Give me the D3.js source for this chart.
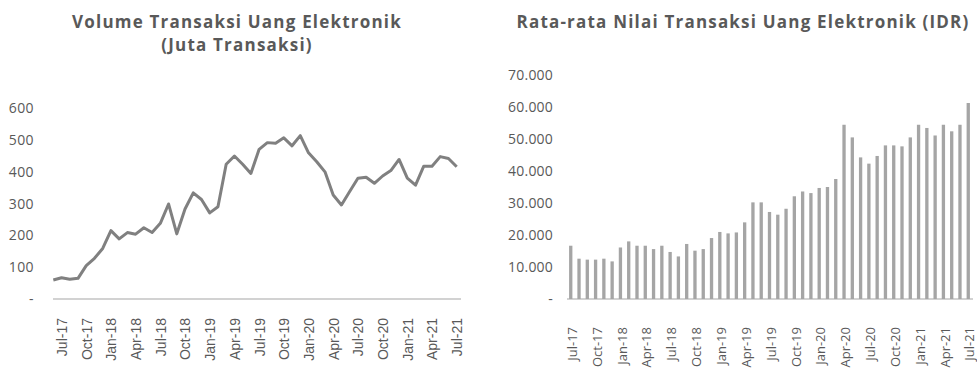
<!DOCTYPE html>
<html>
<head>
<meta charset="utf-8">
<script src="https://cdn.jsdelivr.net/npm/d3@7"></script>
<style>
  body { margin: 0; background: #fff; }
  svg { display: block; }
</style>
</head>
<body>
<div id="chart"></div>
<script>
// Months on the left chart (line starts one month earlier than the bar chart)
const months = [
  "Jun-17","Jul-17","Aug-17","Sep-17","Oct-17","Nov-17","Dec-17",
  "Jan-18","Feb-18","Mar-18","Apr-18","May-18","Jun-18","Jul-18","Aug-18","Sep-18","Oct-18","Nov-18","Dec-18",
  "Jan-19","Feb-19","Mar-19","Apr-19","May-19","Jun-19","Jul-19","Aug-19","Sep-19","Oct-19","Nov-19","Dec-19",
  "Jan-20","Feb-20","Mar-20","Apr-20","May-20","Jun-20","Jul-20","Aug-20","Sep-20","Oct-20","Nov-20","Dec-20",
  "Jan-21","Feb-21","Mar-21","Apr-21","May-21","Jun-21","Jul-21"
];
const barMonths = months.slice(1);

const tickLabels = ["Jul-17","Oct-17","Jan-18","Apr-18","Jul-18","Oct-18","Jan-19","Apr-19",
  "Jul-19","Oct-19","Jan-20","Apr-20","Jul-20","Oct-20","Jan-21","Apr-21","Jul-21"];

// Volume (juta transaksi)
const volume = [60,67,62,65,105,128,159,215,189,209,204,224,209,238,299,205,283,334,313,271,
  290,424,450,424,395,471,492,490,507,482,514,460,432,400,327,296,338,380,383,364,
  387,404,439,380,358,418,418,448,442,416];

// Rata-rata nilai transaksi (IDR)
const avgValue = [16650,12600,12300,12300,12600,11750,16100,18000,16650,16650,15600,16650,14700,13300,
  17200,15100,15600,19050,20950,20500,20800,23950,30200,30200,27200,26350,28200,32100,33600,33100,
  34700,35000,37500,54450,50500,44250,42300,44700,48000,48000,47700,50500,54450,53450,51100,54450,
  52400,54450,61250];

const leftTicks = [0, 100, 200, 300, 400, 500, 600];
const rightTicks = [0, 10000, 20000, 30000, 40000, 50000, 60000, 70000];

const width = 977, height = 370;
const baseY = 299;
const textColor = "#595959";
const titleFont = "'Open Sans', sans-serif";

const idFormat = d3.formatLocale({decimal: ",", thousands: ".", grouping: [3], currency: ["", ""]}).format(",d");

const svg = d3.select("#chart").append("svg")
    .attr("width", width)
    .attr("height", height)
    .attr("viewBox", [0, 0, width, height]);

// titles
function title(x, y, txt) {
  svg.append("text")
      .attr("x", x)
      .attr("y", y)
      .attr("text-anchor", "middle")
      .style("font-family", titleFont)
      .style("font-weight", "bold")
      .style("font-size", "17px")
      .style("letter-spacing", "1.2px")
      .style("fill", textColor)
      .text(txt);
}

// ---------- Left: line chart ----------
const xL = d3.scalePoint()
    .domain(months)
    .range([53.3, 456.7]);

const yL = d3.scaleLinear()
    .domain([0, 600])
    .range([baseY, 108.3]);

title(237, 28, "Volume Transaksi Uang Elektronik");
title(237, 51, "(Juta Transaksi)");

svg.append("g")
    .attr("transform", "translate(36,0)")
    .call(d3.axisLeft(yL).tickValues(leftTicks).tickSize(0).tickPadding(2)
      .tickFormat(d => d === 0 ? "-" : d))
    .call(g => g.select(".domain").remove())
    .selectAll("text")
    .style("font-family", titleFont)
    .style("font-size", "14px")
    .style("letter-spacing", "0.4px")
    .style("fill", textColor);

// baseline
svg.append("line")
    .attr("x1", 53).attr("x2", 461)
    .attr("y1", baseY).attr("y2", baseY)
    .attr("stroke", "#a6a6a6")
    .attr("stroke-width", 1.2);

svg.append("g")
    .attr("transform", `translate(0,${baseY})`)
    .call(d3.axisBottom(xL).tickValues(tickLabels).tickSize(0))
    .call(g => g.select(".domain").remove())
    .selectAll("text")
    .attr("transform", "rotate(-90)")
    .attr("x", -19)
    .attr("y", 0)
    .attr("dy", "0.35em")
    .style("text-anchor", "end")
    .style("font-family", "'Liberation Sans', Arial, sans-serif")
    .style("font-size", "14px")
    .style("fill", textColor);

const line = d3.line()
    .x((d, i) => xL(months[i]))
    .y(d => yL(d));

svg.append("path")
    .datum(volume)
    .attr("fill", "none")
    .attr("stroke", "#808080")
    .attr("stroke-width", 3)
    .attr("stroke-linejoin", "round")
    .attr("d", line);

// ---------- Right: bar chart ----------
const xR = d3.scaleBand()
    .domain(barMonths)
    .range([566.6, 972.4])
    .paddingInner(0.6)
    .paddingOuter(0.3);

const yR = d3.scaleLinear()
    .domain([0, 70000])
    .range([baseY, 75]);

title(743, 28, "Rata-rata Nilai Transaksi Uang Elektronik (IDR)");

svg.append("g")
    .attr("transform", "translate(556,0)")
    .call(d3.axisLeft(yR).tickValues(rightTicks).tickSize(0).tickPadding(3)
      .tickFormat(d => d === 0 ? "-" : idFormat(d)))
    .call(g => g.select(".domain").remove())
    .selectAll("text")
    .style("font-family", titleFont)
    .style("font-size", "14px")
    .style("letter-spacing", "0.2px")
    .style("fill", textColor);

svg.append("g")
    .selectAll("rect")
    .data(avgValue)
    .join("rect")
      .attr("x", (d, i) => xR(barMonths[i]))
      .attr("y", d => yR(d))
      .attr("width", xR.bandwidth())
      .attr("height", d => baseY - yR(d))
      .attr("fill", "#a5a5a5");

svg.append("line")
    .attr("x1", 567).attr("x2", 973)
    .attr("y1", baseY).attr("y2", baseY)
    .attr("stroke", "#a6a6a6")
    .attr("stroke-width", 1.2);

svg.append("g")
    .attr("transform", `translate(${xR.bandwidth() / 2},${baseY})`)
    .call(d3.axisBottom(xR).tickValues(tickLabels).tickSize(0))
    .call(g => g.select(".domain").remove())
    .selectAll("text")
    .attr("transform", "rotate(-90)")
    .attr("x", -28)
    .attr("y", 0)
    .attr("dy", "0.35em")
    .style("text-anchor", "end")
    .style("font-family", titleFont)
    .style("font-size", "13px")
    .style("fill", textColor);
</script>
</body>
</html>
